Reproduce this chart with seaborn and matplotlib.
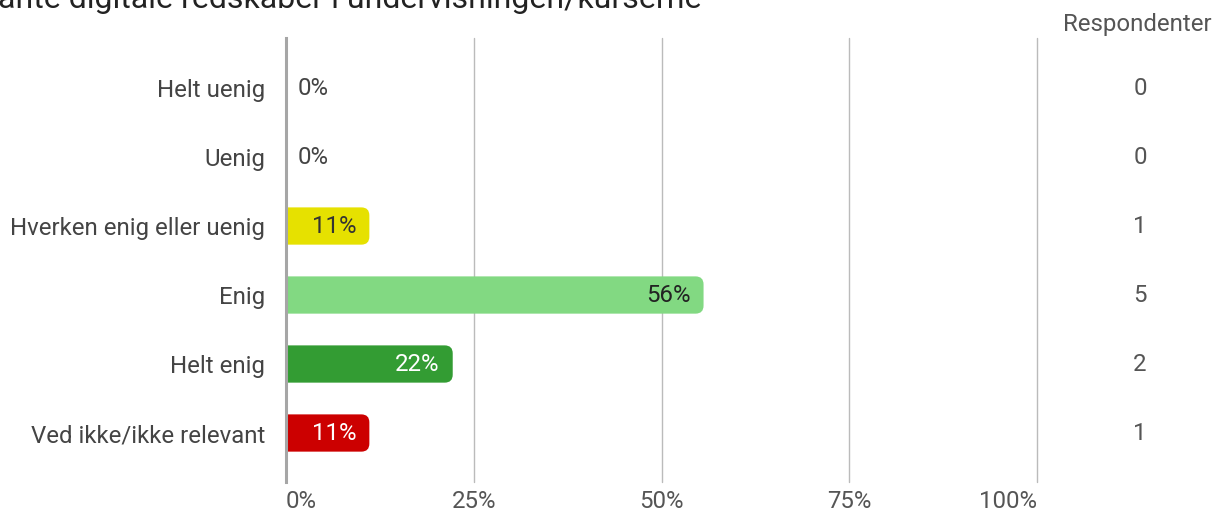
import matplotlib
matplotlib.use("Agg")
import matplotlib.pyplot as plt
import matplotlib.transforms as mtrans
from matplotlib.patches import FancyBboxPatch
import seaborn as sns
import pandas as pd

# ---- data ----
title = "ante digitale redskaber i undervisningen/kurserne"
categories = ["Helt uenig", "Uenig", "Hverken enig eller uenig", "Enig",
              "Helt enig", "Ved ikke/ikke relevant"]
percent = [0.0, 0.0, 11.1, 55.6, 22.2, 11.1]
respondents = [0, 0, 1, 5, 2, 1]
bar_colors = ["#CC0000", "#CC0000", "#E6E100", "#82D982", "#339C33", "#CC0000"]
label_colors = ["#333333", "#333333", "#333333", "#222222", "#FFFFFF", "#FFFFFF"]
x_ticks = [0, 25, 50, 75, 100]
x_tick_labels = ["0%", "25%", "50%", "75%", "100%"]
column_header = "Respondenter"

sns.set_theme(style="white")
plt.rcParams["font.family"] = ["Roboto", "DejaVu Sans"]

FS = 17.3
W, H = 1217, 515
fig = plt.figure(figsize=(W / 100, H / 100), dpi=100)
ax_left, ax_right = 286, 1037
ax_top, ax_bottom = 38, 482
ax = fig.add_axes([ax_left / W, 1 - ax_bottom / H, (ax_right - ax_left) / W,
                   (ax_bottom - ax_top) / H])

df = pd.DataFrame({"cat": categories, "pct": percent})
sns.barplot(data=df, x="pct", y="cat", hue="cat", palette=bar_colors,
            orient="h", legend=False, width=0.54, ax=ax, saturation=1)

ax.set_xlim(0, 100)
ax.set_ylim(5.71, -0.725)

px_per_x = (ax_right - ax_left) / 100.0
px_per_y = 69.0
r_px = 8.0
rx = r_px / px_per_x
aspect = px_per_x / px_per_y

for p in list(ax.patches):
    x0, y0 = p.get_x(), p.get_y()
    w, h = p.get_width(), p.get_height()
    col = p.get_facecolor()
    p.set_visible(False)
    if w <= 0:
        continue
    ext = 3 * rx  # extend left past the axis so the left corners are clipped
    fb = FancyBboxPatch((x0 - ext, y0), w + ext, h,
                        boxstyle=f"round,pad=0,rounding_size={rx}",
                        mutation_aspect=aspect, facecolor=col,
                        edgecolor="none", zorder=3)
    ax.add_patch(fb)

# value labels
for i, v in enumerate(percent):
    txt = f"{round(v):d}%"
    if v <= 0:
        ax.text(12 / px_per_x, i, txt, ha="left", va="center",
                fontsize=FS, color="#444444", zorder=4)
    else:
        ax.text(v - 13 / px_per_x, i, txt, ha="right", va="center",
                fontsize=FS, color=label_colors[i], zorder=4)

# grid and axes styling
ax.set_xticks(x_ticks)
ax.set_xticklabels(x_tick_labels)
for t in ax.get_xticklabels():
    t.set_fontsize(FS)
    t.set_color("#555555")
labs = ax.get_xticklabels()
labs[0].set_ha("left")
labs[-1].set_ha("right")
ax.xaxis.grid(True, color="#BBBBBB", linewidth=1.0, zorder=0)
for gl in ax.get_xgridlines():
    gl.set_clip_on(False)
ax.yaxis.grid(False)
ax.set_axisbelow(True)
ax.tick_params(axis="x", length=0, pad=6)
ax.tick_params(axis="y", length=0, pad=15, labelsize=FS, labelcolor="#444444")
ax.set_xlabel("")
ax.set_ylabel("")
for s in ["top", "right", "bottom"]:
    ax.spines[s].set_visible(False)
ax.spines["left"].set_color("#A6A6A6")
ax.spines["left"].set_linewidth(2.2)
ax.spines["left"].set_zorder(5)

# respondents column
tr = mtrans.blended_transform_factory(fig.transFigure, ax.transData)
for i, n in enumerate(respondents):
    ax.text(1140 / W, i, str(n), transform=tr, ha="center", va="center",
            fontsize=FS, color="#555555", clip_on=False)
fig.text(1212 / W, 1 - 25 / H, column_header, ha="right", va="center",
         fontsize=FS, color="#555555")

# title (cut off at top)
fig.text(-2 / W, 1 - 8 / H, title, ha="left", va="baseline",
         fontsize=23, color="#222222")

fig.savefig("out.png", dpi=100)
